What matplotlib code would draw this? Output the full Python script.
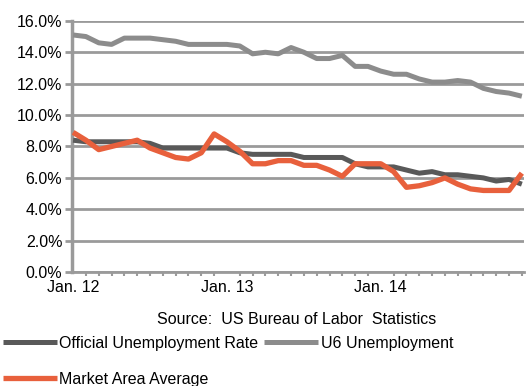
import matplotlib
matplotlib.use("Agg")
from matplotlib import pyplot as plt

## data (monthly, Jan 2012 - Dec 2014)
months = list(range(36))
tick_pos = [0, 12, 24]
tick_labels = ["Jan. 12", "Jan. 13", "Jan. 14"]

official = [8.4, 8.3, 8.3, 8.3, 8.3, 8.3, 8.2, 7.9, 7.9, 7.9, 7.9, 7.9,
            7.9, 7.6, 7.5, 7.5, 7.5, 7.5, 7.3, 7.3, 7.3, 7.3, 6.9, 6.7,
            6.7, 6.7, 6.5, 6.3, 6.4, 6.2, 6.2, 6.1, 6.0, 5.8, 5.9, 5.6]
u6 = [15.1, 15.0, 14.6, 14.5, 14.9, 14.9, 14.9, 14.8, 14.7, 14.5, 14.5, 14.5,
      14.5, 14.4, 13.9, 14.0, 13.9, 14.3, 14.0, 13.6, 13.6, 13.8, 13.1, 13.1,
      12.8, 12.6, 12.6, 12.3, 12.1, 12.1, 12.2, 12.1, 11.7, 11.5, 11.4, 11.2]
market = [8.9, 8.4, 7.8, 8.0, 8.2, 8.4, 7.9, 7.6, 7.3, 7.2, 7.6, 8.8,
          8.3, 7.7, 6.9, 6.9, 7.1, 7.1, 6.8, 6.8, 6.5, 6.1, 6.9, 6.9,
          6.9, 6.4, 5.4, 5.5, 5.7, 6.0, 5.6, 5.3, 5.2, 5.2, 5.2, 6.3]

plt.rcParams["font.family"] = ["Liberation Sans", "DejaVu Sans"]

grid_col = "#9a9a9a"
dark = "#595959"
light = "#8c8c8c"
orange = "#e8603c"
fs = 11.5

fig = plt.figure(figsize=(5.26, 3.86), dpi=100)
ax = fig.add_axes([0.137, 0.295, 0.859, 0.651])

# the series
l1, = ax.plot(months, official, color=dark, lw=3.6, solid_capstyle="butt",
              label="Official Unemployment Rate", zorder=3)
l2, = ax.plot(months, u6, color=light, lw=3.6, solid_capstyle="butt",
              label="U6 Unemployment", zorder=3)
l3, = ax.plot(months, market, color=orange, lw=3.8, solid_capstyle="butt",
              label="Market Area Average", zorder=4)

# axes
ax.set_xlim(-0.08, 35.16)
ax.set_ylim(0, 16)
ax.set_yticks(range(0, 17, 2))
ax.set_yticklabels([f"{v:.1f}%" for v in range(0, 17, 2)], fontsize=fs)
ax.grid(axis="y", color=grid_col, lw=2)
ax.set_axisbelow(True)

ax.set_xticks(months, minor=True)
ax.set_xticks(tick_pos)
ax.set_xticklabels(tick_labels, fontsize=fs)
ax.tick_params(axis="x", which="major", length=0, pad=6)
ax.tick_params(axis="x", which="minor", length=3, width=1.5, color=grid_col)
ax.tick_params(axis="y", length=5, width=2, color=grid_col, pad=2)

for side in ["top", "right"]:
    ax.spines[side].set_visible(False)
ax.spines["left"].set_color(grid_col)
ax.spines["left"].set_linewidth(2.5)
ax.spines["bottom"].set_color(grid_col)
ax.spines["bottom"].set_linewidth(2)

# source note
fig.text(0.563, 0.171, "Source:  US Bureau of Labor  Statistics",
         ha="center", va="center", fontsize=fs)

# legend below the chart
fig.legend([l1, l3, l2],
           ["Official Unemployment Rate", "Market Area Average", "U6 Unemployment"],
           loc="upper left", bbox_to_anchor=(0.005, 0.13), ncol=2,
           frameon=False, fontsize=fs, handlelength=3.4, handletextpad=0.15,
           columnspacing=0.35, labelspacing=1.3, borderpad=0, borderaxespad=0)

fig.savefig("out.png", dpi=100)
